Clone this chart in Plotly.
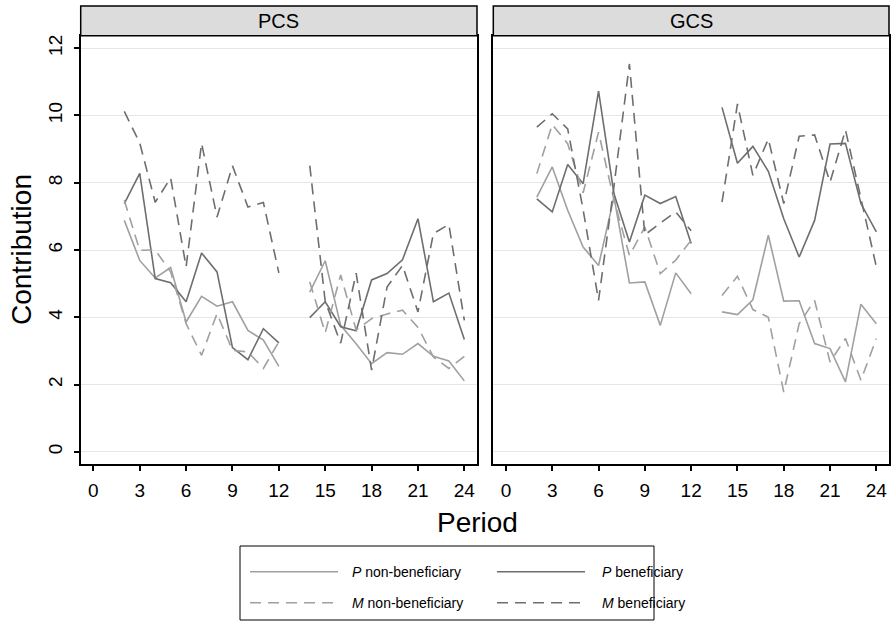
import plotly.graph_objects as go

# ---------------- data ----------------
periods = list(range(2, 25))  # period 13 is a gap (None)

pcs_p_non = [6.88, 5.69, 5.17, 5.48, 3.86, 4.62, 4.33, 4.46, 3.61, 3.32, 2.54, None,
             4.75, 5.68, 3.76, 3.21, 2.62, 2.95, 2.90, 3.22, 2.84, 2.70, 2.11]
pcs_p_ben = [7.38, 8.28, 5.15, 5.03, 4.46, 5.91, 5.35, 3.10, 2.74, 3.66, 3.24, None,
             3.99, 4.46, 3.72, 3.60, 5.11, 5.30, 5.71, 6.93, 4.46, 4.72, 3.34]
pcs_m_non = [7.48, 5.99, 6.00, 5.35, 3.81, 2.87, 4.11, 3.02, 2.97, 2.48, 3.27, None,
             5.05, 3.54, 5.26, 3.62, 3.96, 4.10, 4.21, 3.70, 2.82, 2.48, 2.84]
pcs_m_ben = [10.12, 9.18, 7.42, 8.14, 5.50, 9.17, 6.98, 8.50, 7.28, 7.41, 5.32, None,
             8.51, 4.47, 3.23, 5.31, 2.43, 4.90, 5.54, 4.16, 6.49, 6.76, 3.91]

gcs_p_non = [7.57, 8.47, 7.18, 6.09, 5.54, 7.57, 5.02, 5.05, 3.76, 5.32, 4.70, None,
             4.16, 4.08, 4.52, 6.44, 4.48, 4.49, 3.22, 3.07, 2.08, 4.39, 3.81]
gcs_p_ben = [7.52, 7.13, 8.54, 7.97, 10.72, 7.67, 6.24, 7.63, 7.38, 7.59, 6.19, None,
             10.24, 8.58, 9.08, 8.34, 6.93, 5.79, 6.88, 9.15, 9.17, 7.38, 6.54]
gcs_m_non = [8.27, 9.73, 9.16, 7.70, 9.50, 7.48, 5.84, 6.68, 5.30, 5.70, 6.29, None,
             4.65, 5.22, 4.23, 4.00, 1.78, 3.81, 4.50, 2.67, 3.37, 2.13, 3.37]
gcs_m_ben = [9.65, 10.05, 9.60, 7.20, 4.50, 7.90, 11.53, 6.45, 6.80, 7.13, 6.57, None,
             7.42, 10.34, 8.22, 9.30, 7.38, 9.38, 9.42, 8.02, 9.57, 7.57, 5.50]

panel_titles = ["PCS", "GCS"]
series_labels = ["<i>P</i> non-beneficiary", "<i>P</i> beneficiary",
                 "<i>M</i> non-beneficiary", "<i>M</i> beneficiary"]
x_ticks = [0, 3, 6, 9, 12, 15, 18, 21, 24]
y_ticks = [0, 2, 4, 6, 8, 10, 12]

# ---------------- styles ----------------
LIGHT = "#a0a0a0"
DARK = "#6e6e6e"
DASH = "11px,7px"
styles = [
    dict(color=LIGHT, width=1.6, dash="solid"),
    dict(color=DARK, width=1.6, dash="solid"),
    dict(color=LIGHT, width=1.6, dash=DASH),
    dict(color=DARK, width=1.6, dash=DASH),
]
FONT = "Liberation Sans, Arial, Helvetica, sans-serif"

W, H = 892, 624
def px(x):
    return x / W
def py(y):
    return 1 - y / H

fig = go.Figure()
panels = [
    ("x", "y", [pcs_p_non, pcs_p_ben, pcs_m_non, pcs_m_ben]),
    ("x2", "y2", [gcs_p_non, gcs_p_ben, gcs_m_non, gcs_m_ben]),
]
for xa, ya, series in panels:
    for vals, st, lab in zip(series, styles, series_labels):
        fig.add_trace(go.Scatter(
            x=periods, y=vals, mode="lines", name=lab, xaxis=xa, yaxis=ya,
            line=st, showlegend=False, connectgaps=False, hoverinfo="skip"))

dom1 = [px(80.7), px(477)]
dom2 = [px(493.3), px(889)]
ydom = [py(464.3), py(35.7)]

axis_common = dict(
    showline=True, linecolor="black", linewidth=1.5, mirror=True,
    ticks="outside", ticklen=5, tickwidth=1.5, tickcolor="black",
    tickfont=dict(family=FONT, size=19, color="black"),
    zeroline=False,
)
xr = [-0.82, 24.82]
yr = [-0.37, 12.37]

fig.update_layout(
    width=W, height=H, margin=dict(l=0, r=0, t=0, b=0),
    paper_bgcolor="white", plot_bgcolor="white",
    font=dict(family=FONT, color="black"),
    xaxis=dict(domain=dom1, range=xr, tickvals=x_ticks, showgrid=False,
               ticklabelstandoff=3, **axis_common),
    xaxis2=dict(domain=dom2, range=xr, tickvals=x_ticks, showgrid=False, anchor="y2",
                ticklabelstandoff=3, **axis_common),
    yaxis=dict(domain=ydom, range=yr, tickvals=y_ticks, tickangle=-90,
               ticklabelstandoff=4,
               showgrid=True, gridcolor="#e6e6e6", gridwidth=1, **axis_common),
    yaxis2=dict(domain=ydom, range=yr, tickvals=y_ticks, anchor="x2", matches="y",
                showgrid=True, gridcolor="#e6e6e6", gridwidth=1, showticklabels=False,
                showline=True, linecolor="black", linewidth=1.5, mirror=True,
                ticks="", zeroline=False),
)

shapes = []
annotations = []
# strips
for dom, title in zip([dom1, dom2], panel_titles):
    shapes.append(dict(type="rect", xref="paper", yref="paper",
                       x0=dom[0], x1=dom[1], y0=ydom[1], y1=py(6),
                       fillcolor="#dcdcdc", line=dict(color="black", width=1.5), layer="above"))
    annotations.append(dict(text=title, xref="paper", yref="paper",
                            x=(dom[0] + dom[1]) / 2, y=(ydom[1] + py(6)) / 2,
                            showarrow=False, font=dict(family=FONT, size=20, color="black"),
                            xanchor="center", yanchor="middle"))

# axis titles
annotations.append(dict(text="Contribution", xref="paper", yref="paper",
                        x=px(21), y=py(250), textangle=-90, showarrow=False,
                        font=dict(family=FONT, size=28, color="black"),
                        xanchor="center", yanchor="middle"))
annotations.append(dict(text="Period", xref="paper", yref="paper",
                        x=px(477), y=py(522), showarrow=False,
                        font=dict(family=FONT, size=28, color="black"),
                        xanchor="center", yanchor="middle"))

# legend box
shapes.append(dict(type="rect", xref="paper", yref="paper",
                   x0=px(240), x1=px(654), y0=py(620), y1=py(546),
                   line=dict(color="black", width=1), fillcolor="white"))
leg_pos = [(250, 338, 350, 571.7), (497, 585, 600, 571.7),
           (250, 338, 350, 602.7), (497, 585, 600, 602.7)]
for (lx0, lx1, tx, ly), st, lab in zip(leg_pos, styles, series_labels):
    shapes.append(dict(type="line", xref="paper", yref="paper",
                       x0=px(lx0), x1=px(lx1), y0=py(ly), y1=py(ly),
                       line=dict(color=st["color"], width=st["width"], dash=st["dash"])))
    annotations.append(dict(text=lab, xref="paper", yref="paper",
                            x=px(tx), y=py(ly), showarrow=False,
                            font=dict(family=FONT, size=14, color="black"),
                            xanchor="left", yanchor="middle"))

fig.update_layout(shapes=shapes, annotations=annotations)
fig.write_html("out.html", config={"displayModeBar": False},
               post_script="document.body.style.margin='0';document.body.style.overflow='hidden';")
